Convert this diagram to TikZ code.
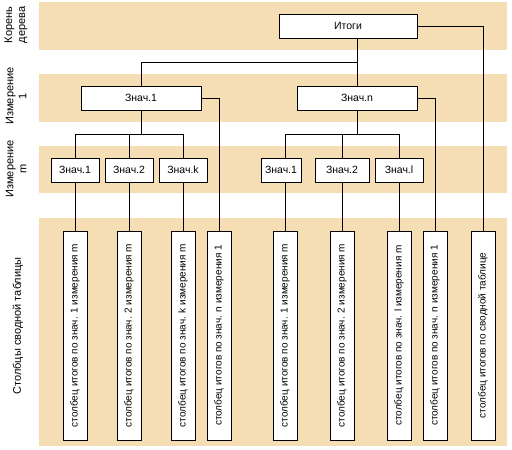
\documentclass[tikz,border=0pt]{standalone}
\usepackage{fontspec}
\setmainfont{Liberation Sans}
\definecolor{band}{HTML}{F5DEB3}
\begin{document}
\begin{tikzpicture}[x=1pt,y=-1pt,
  every node/.style={font=\fontsize{10}{12}\selectfont, inner sep=0pt},
  box/.style={draw=black, fill=white, line width=0.8pt, minimum height=24pt, font=\fontsize{10.5}{12}\selectfont},
  colbox/.style={draw=black, fill=white, line width=0.8pt, minimum width=24pt, minimum height=209pt},
  coltext/.style={rotate=90},
  lab/.style={rotate=90, align=center, font=\fontsize{11}{13}\selectfont},
  conn/.style={draw=black, line width=0.8pt}]
\useasboundingbox (0,0) rectangle (512,450);
% bands
\fill[band] (39,2) rectangle (507,50);
\fill[band] (39,74) rectangle (507,122);
\fill[band] (39,146) rectangle (507,193);
\fill[band] (39,218) rectangle (507,446);
% left labels
\node[lab] (l1) at (16,25) {Корень\\дерева};
\node[lab] (l2) at (16,96) {Измерение\\1};
\node[lab] (l3) at (16,169) {Измерение\\m};
\node[lab] (l4) at (18,326) {Столбцы сводной таблицы};
% columns
\foreach \n/\x/\t in {1/75/{столбец итогов по знач. 1 измерения m},
                      2/129/{столбец итогов по знач. 2 измерения m},
                      3/183/{столбец итогов по знач. k измерения m},
                      4/219/{столбец итогов по знач. n измерения 1},
                      5/285/{столбец итогов по знач. 1 измерения m},
                      6/342/{столбец итогов по знач. 2 измерения m},
                      7/399/{столбец итогов по знач. l измерения m},
                      8/435/{столбец итогов по знач. n измерения 1},
                      9/483/{столбец итогов по сводной таблице}}{
  \node[colbox] (col\n) at (\x,335.5) {};
  \node[coltext] (colt\n) at (col\n.center) {\t};
}
% tree nodes
\node[box, minimum width=138pt] (root) at (348,26) {Итоги};
\node[box, minimum width=120pt] (a1) at (141,98) {Знач.1};
\node[box, minimum width=120pt] (an) at (357,98) {Знач.n};
\node[box, minimum width=48pt] (b1) at (75,170) {Знач.1};
\node[box, minimum width=48pt] (b2) at (129,170) {Знач.2};
\node[box, minimum width=48pt] (bk) at (183,170) {Знач.k};
\node[box, minimum width=40pt] (c1) at (281,170) {Знач.1};
\node[box, minimum width=54pt] (c2) at (342,170) {Знач.2};
\node[box, minimum width=48pt] (cl) at (399,170) {Знач.l};
\coordinate (bus0) at (0,62);
\coordinate (bus1) at (0,134);
% connectors
\draw[conn] (an.north) -- (an.north |- root.south);
\draw[conn] (a1.north) -- (a1.north |- bus0) -- (an.north |- bus0);
\draw[conn] (root.east) -| (col9.north);
\draw[conn] (a1.east) -| (col4.north);
\draw[conn] (an.east) -| (col8.north);
\draw[conn] (a1.south) -- (a1.south |- bus1);
\draw[conn] (b1.north) -- (b1.north |- bus1) -- (bk.north |- bus1) -- (bk.north);
\draw[conn] (b2.north) -- (b2.north |- bus1);
\draw[conn] (an.south) -- (an.south |- bus1);
\draw[conn] (col5.north |- c1.north) -- (col5.north |- bus1) -- (cl.north |- bus1) -- (cl.north);
\draw[conn] (c2.north) -- (c2.north |- bus1);
\draw[conn] (b1.south) -- (col1.north);
\draw[conn] (b2.south) -- (col2.north);
\draw[conn] (bk.south) -- (col3.north);
\draw[conn] (col5.north |- c1.south) -- (col5.north);
\draw[conn] (c2.south) -- (col6.north);
\draw[conn] (cl.south) -- (col7.north);
\end{tikzpicture}
\end{document}
